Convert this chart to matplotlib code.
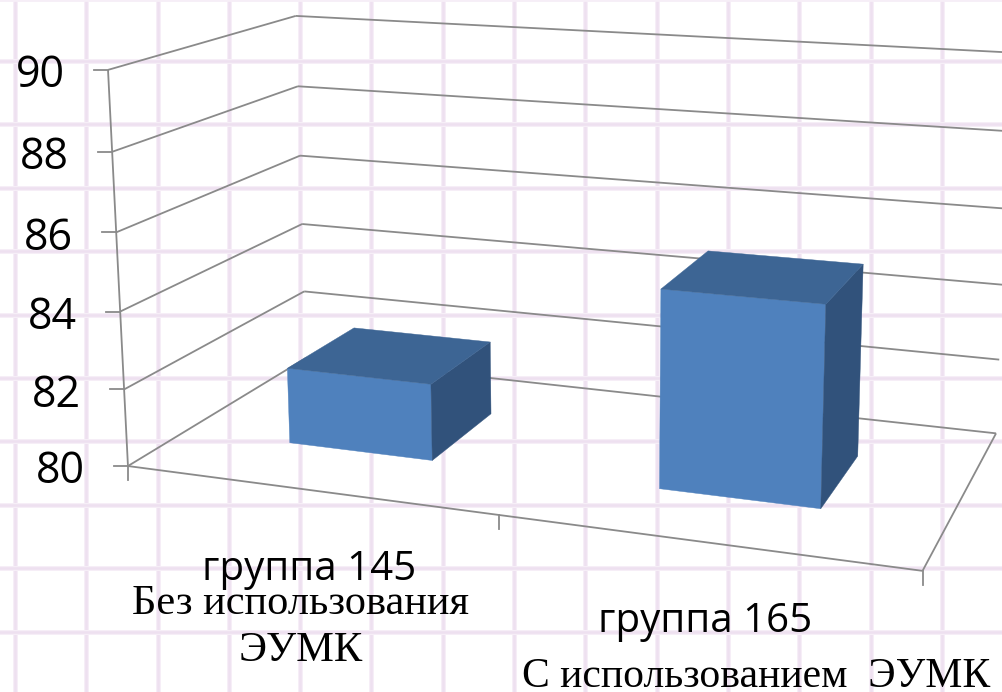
#!/usr/bin/python3

import matplotlib
matplotlib.use('Agg')
import matplotlib.pyplot as plt
import numpy as np

# chart data
groups = ['группа 145', 'группа 165']
captions = ['Без использования', 'ЭУМК', 'С использованием  ЭУМК']
values = [82, 85]
y_ticks = [80, 82, 84, 86, 88, 90]

ymin, ymax = y_ticks[0], y_ticks[-1]
bar_width = 0.2
depth_lo, depth_hi = 0.3, 0.7

# anchors used to calibrate the fake 3d camera: (x, depth, height 0-1) -> pixel
anchors = [
    (0, 0, 0.0, 130, 465), (0, 0, 0.2, 124, 390), (0, 0, 0.4, 120, 312),
    (0, 0, 0.6, 116, 232), (0, 0, 0.8, 113, 152), (0, 0, 1.0, 106, 69),
    (0, 1, 0.0, 305, 358), (0, 1, 0.2, 303, 292), (0, 1, 0.4, 302, 224),
    (0, 1, 0.6, 300, 156), (0, 1, 0.8, 299, 86), (0, 1, 1.0, 297, 16),
    (1, 1, 0.0, 997, 432), (1, 1, 1.0, 1012, 53), (1, 0, 0.0, 922, 572),
]


def fit_camera(points):
    rows = []
    for x, d, h, u, v in points:
        rows.append([x, d, h, 1, 0, 0, 0, 0, -u * x, -u * d, -u * h, -u])
        rows.append([0, 0, 0, 0, x, d, h, 1, -v * x, -v * d, -v * h, -v])
    return np.linalg.svd(np.array(rows, float))[2][-1].reshape(3, 4)


cam = fit_camera(anchors)


def proj(x, d, val):
    # val is in chart units, x and d are fractions of the floor
    p = cam @ np.array([x, d, (val - ymin) / (ymax - ymin), 1.0])
    return p[0] / p[2], p[1] / p[2]


def line3d(ax, a, b, lw=1.3):
    pa, pb = proj(*a), proj(*b)
    ax.plot([pa[0], pb[0]], [pa[1], pb[1]], color='#8a8a8a', lw=lw, zorder=3,
            solid_capstyle='butt')


def face(ax, corners, color):
    pts = [proj(*c) for c in corners]
    ax.fill([p[0] for p in pts], [p[1] for p in pts], color=color, lw=0.3, zorder=4)


fig = plt.figure(figsize=(10.02, 6.92), dpi=100)
ax = fig.add_axes([0, 0, 1, 1])
ax.set_xlim(0, 1002)
ax.set_ylim(692, 0)
ax.axis('off')

# squared paper behind the chart
for gx in np.arange(15, 1002, 71.3):
    ax.axvline(gx, color='#f6eef7', lw=3.6, zorder=1)
    ax.axvline(gx, color='#eee0f0', lw=1.8, zorder=1)
for gy in np.arange(61, 692, 63.4):
    ax.axhline(gy, color='#f6eef7', lw=3.6, zorder=1)
    ax.axhline(gy, color='#eee0f0', lw=1.8, zorder=1)
ax.axhline(0, color='#f6eef7', lw=2, zorder=1)

# walls and floor
for t in y_ticks:
    line3d(ax, (0, 0, t), (0, 1, t))
    line3d(ax, (0, 1, t), (1, 1, t))
    tx, ty = proj(0, 0, t)
    ax.plot([tx - 14, tx], [ty, ty], color='#8a8a8a', lw=1.3, zorder=3)
    ax.text(tx - 43, ty + 6, str(t), ha='right', va='center', fontsize=31,
            family=['Open Sans'], color='black', zorder=6)
line3d(ax, (0, 0, ymin), (0, 0, ymax))
line3d(ax, (0, 0, ymin), (1, 0, ymin))
line3d(ax, (1, 0, ymin), (1, 1, ymin))
for t in [0, 0.5, 1]:
    tx, ty = proj(t, 0, ymin)
    ax.plot([tx, tx], [ty, ty + 14], color='#8a8a8a', lw=1.3, zorder=3)

# bars
for i, val in enumerate(values):
    xc = (i + 0.5) / len(values)
    x0, x1 = xc - bar_width / 2, xc + bar_width / 2
    face(ax, [(x0, depth_lo, ymin), (x1, depth_lo, ymin), (x1, depth_lo, val), (x0, depth_lo, val)], '#4f81bd')
    face(ax, [(x1, depth_lo, ymin), (x1, depth_hi, ymin), (x1, depth_hi, val), (x1, depth_lo, val)], '#31527b')
    face(ax, [(x0, depth_lo, val), (x1, depth_lo, val), (x1, depth_hi, val), (x0, depth_hi, val)], '#3d6594')

# labels under the chart
ax.text(309, 570, groups[0], ha='center', va='center', fontsize=29, family=['Open Sans'], zorder=6)
ax.text(705, 622, groups[1], ha='center', va='center', fontsize=29, family=['Open Sans'], zorder=6)
ax.text(301, 604, captions[0], ha='center', va='center', fontsize=30.5,
        family=['Liberation Serif'], zorder=6)
ax.text(301, 651, captions[1], ha='center', va='center', fontsize=30.5,
        family=['Liberation Serif'], zorder=6)
ax.text(522, 677, captions[2], ha='left', va='center', fontsize=30,
        family=['Liberation Serif'], zorder=6)

fig.savefig('out.png', dpi=100)
